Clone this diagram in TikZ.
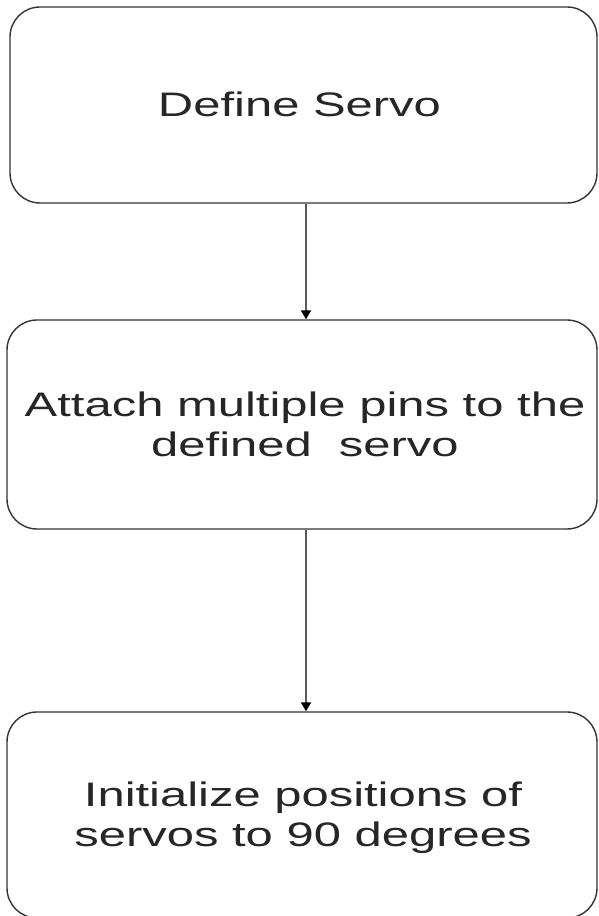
\documentclass[tikz,border=0pt]{standalone}
\usepackage{fontspec}
\setmainfont{Liberation Sans}
\usetikzlibrary{arrows.meta}
\newcommand{\widetext}[1]{\scalebox{1.44}[1]{\begin{tabular}{@{}c@{}}#1\end{tabular}}}
\begin{document}
\begin{tikzpicture}[x=1pt,y=1pt,
  stepbox/.style={draw=black!80, line width=1.4pt, rounded corners=30pt,
    rectangle, inner sep=0pt, text=black!85,
    font=\fontsize{34}{40}\selectfont},
  label/.style={text=black!85, inner sep=0pt,
    font=\fontsize{34}{40}\selectfont},
  flow/.style={draw=black!65, line width=1.6pt,
    -{Triangle[length=9pt,width=10pt,fill=black,color=black]}}]
  \clip (0,0) rectangle (598,916);
  \fill[white] (0,0) rectangle (598,916);

  % process steps
  \node[stepbox, minimum width=587pt, minimum height=196pt] (b1) at (303.5,811) {};
  \node[stepbox, minimum width=590pt, minimum height=209pt] (b2) at (302,491.5) {};
  \node[stepbox, minimum width=590pt, minimum height=206pt] (b3) at (302,101) {};

  % step texts
  \node[label] (t1) at ([xshift=-4pt,yshift=-4pt]b1.center) {\widetext{Define Servo}};
  \node[label] (t2) at ([xshift=3pt,yshift=-4pt]b2.center) {\widetext{Attach multiple pins to the\\defined~\ servo}};
  \node[label] (t3) at ([xshift=1pt,yshift=-4pt]b3.center) {\widetext{Initialize positions of\\servos to 90 degrees}};

  % connectors
  \coordinate (ax) at (306,0);
  \draw[flow] (b1.south -| ax) -- (b2.north -| ax);
  \draw[flow] (b2.south -| ax) -- (b3.north -| ax);
\end{tikzpicture}
\end{document}
